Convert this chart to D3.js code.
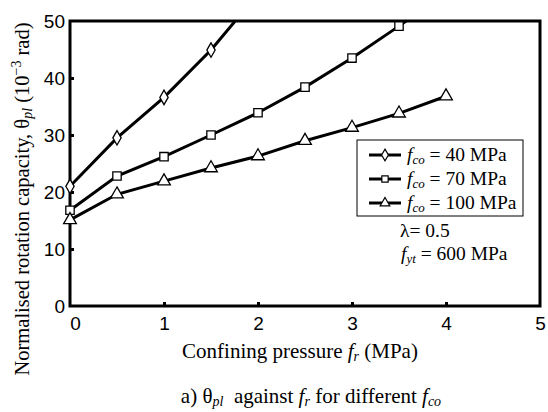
<!DOCTYPE html>
<html>
<head>
<meta charset="utf-8">
<script src="https://cdn.jsdelivr.net/npm/d3@7"></script>
<style>
  body { margin: 0; background: #fff; }
  svg text { fill: #000; }
</style>
</head>
<body>
<div class="chart"></div>
<script>
//data
const pressure = [0, 0.5, 1, 1.5, 2, 2.5, 3, 3.5, 4];
const theta40 = [21, 29.5, 36.6, 44.9, 54.8];
const theta70 = [16.8, 22.8, 26.2, 30, 33.9, 38.4, 43.5, 49.1, 55];
const theta100 = [15.1, 19.6, 21.9, 24.2, 26.3, 29, 31.3, 33.8, 36.8];
const seriesNames = ["40", "70", "100"];
const xTicks = [0, 1, 2, 3, 4, 5];
const yTicks = [0, 10, 20, 30, 40, 50];

const width = 548, height = 412;
const margin = {left: 70, right: 8, top: 21, bottom: 106};
const serif = "'Liberation Serif','Times New Roman',serif",
      sans = "'Liberation Sans',Arial,sans-serif";

const svg = d3.select(".chart").append("svg")
    .attr("width", width)
    .attr("height", height);

const x = d3.scaleLinear().domain([0, 5]).range([margin.left, width - margin.right]);
const y = d3.scaleLinear().domain([0, 50]).range([height - margin.bottom, margin.top]);

svg.append("clipPath").attr("id", "clip")
  .append("rect")
    .attr("x", x(0) - 10).attr("y", y(50))
    .attr("width", x(5) - x(0) + 10).attr("height", y(0) - y(50));

//axes, ticks pointing inward
const xAxis = d3.axisBottom(x).tickValues(xTicks).tickSize(-4).tickPadding(11).tickFormat(d3.format("d"));
const yAxis = d3.axisLeft(y).tickValues(yTicks).tickSize(-4).tickPadding(5).tickFormat(d3.format("d"));

const gx = svg.append("g").attr("transform", "translate(0," + y(0) + ")").call(xAxis);
const gy = svg.append("g").attr("transform", "translate(" + x(0) + ",0)").call(yAxis);
[gx, gy].forEach(g => {
  g.select(".domain").remove();
  g.selectAll(".tick line").attr("stroke", "#000").attr("stroke-width", 3);
  g.selectAll(".tick text").style("font-family", sans).style("font-size", "19px");
});
gx.selectAll(".tick").filter(d => d === 0 || d === 5).select("line").remove();
gx.selectAll(".tick").filter(d => d === 0).select("text").attr("dx", 5);
gy.selectAll(".tick").filter(d => d === 0 || d === 50).select("line").remove();

//frame
svg.append("rect")
    .attr("x", x(0)).attr("y", y(50))
    .attr("width", x(5) - x(0)).attr("height", y(0) - y(50))
    .attr("fill", "none").attr("stroke", "#000").attr("stroke-width", 3);

const line = d3.line().x(d => x(d[0])).y(d => y(d[1]));
const series = [theta40, theta70, theta100].map(v => v.map((t, i) => [pressure[i], t]));
const shapes = [d3.symbolDiamond, d3.symbolSquare, d3.symbolTriangle];
const sizes = [60, 70, 70];

const plot = svg.append("g").attr("clip-path", "url(#clip)");
series.forEach((s, k) => {
  plot.append("path")
      .datum(s)
      .attr("d", line)
      .attr("fill", "none")
      .attr("stroke", "#000")
      .attr("stroke-width", 3);
  plot.selectAll(".m" + k)
    .data(s.filter(d => d[1] <= 50))
    .enter().append("path")
      .attr("transform", d => "translate(" + x(d[0]) + "," + y(d[1]) + ")")
      .attr("d", d3.symbol().type(shapes[k]).size(sizes[k]))
      .attr("fill", "#fff")
      .attr("stroke", "#000")
      .attr("stroke-width", 1.3);
});

//legend
const legend = svg.append("g");
legend.append("rect")
    .attr("x", 357).attr("y", 140).attr("width", 166).attr("height", 76)
    .attr("fill", "#fff").attr("stroke", "#000").attr("stroke-width", 1);
seriesNames.forEach((name, k) => {
  const ly = 155 + k * 24;
  legend.append("line")
      .attr("x1", 369).attr("x2", 401).attr("y1", ly).attr("y2", ly)
      .attr("stroke", "#000").attr("stroke-width", 3);
  legend.append("path")
      .attr("transform", "translate(385," + ly + ")")
      .attr("d", d3.symbol().type(shapes[k]).size(40))
      .attr("fill", "#fff").attr("stroke", "#000").attr("stroke-width", 1.2);
  const t = legend.append("text")
      .attr("x", 407).attr("y", ly + 6)
      .style("font-family", serif).style("font-size", "19.5px");
  t.append("tspan").style("font-style", "italic").text("f");
  t.append("tspan").style("font-style", "italic").style("font-size", "13px").attr("dy", 3).text("co");
  t.append("tspan").attr("dy", -3).text(" = " + name + " MPa");
});

svg.append("text")
    .attr("x", 400).attr("y", 237)
    .style("font-family", serif).style("font-size", "19.5px")
    .text("λ= 0.5");
const fyt = svg.append("text")
    .attr("x", 401).attr("y", 260)
    .style("font-family", serif).style("font-size", "19.5px");
fyt.append("tspan").style("font-style", "italic").text("f");
fyt.append("tspan").style("font-style", "italic").style("font-size", "13px").attr("dy", 3).text("yt");
fyt.append("tspan").attr("dy", -3).text(" = 600 MPa");

//x label
const xl = svg.append("text")
    .attr("x", 300).attr("y", 358)
    .attr("text-anchor", "middle")
    .style("font-family", serif).style("font-size", "21px");
xl.append("tspan").text("Confining pressure ");
xl.append("tspan").style("font-style", "italic").text("f");
xl.append("tspan").style("font-style", "italic").style("font-size", "14px").attr("dy", 3).text("r");
xl.append("tspan").attr("dy", -3).text(" (MPa)");

//y label
const yl = svg.append("text")
    .attr("transform", "translate(29,199) rotate(-90)")
    .attr("text-anchor", "middle")
    .style("font-family", serif).style("font-size", "20.5px");
yl.append("tspan").text("Normalised rotation capacity, θ");
yl.append("tspan").style("font-style", "italic").style("font-size", "14px").attr("dy", 3).text("pl");
yl.append("tspan").attr("dy", -3).text(" (10");
yl.append("tspan").style("font-size", "14px").attr("dy", -8).text("−3");
yl.append("tspan").attr("dy", 8).text(" rad)");

//caption
const cap = svg.append("text")
    .attr("x", 311).attr("y", 403)
    .attr("text-anchor", "middle")
    .style("font-family", serif).style("font-size", "21px");
cap.append("tspan").text("a) θ");
cap.append("tspan").style("font-style", "italic").style("font-size", "14px").attr("dy", 3).text("pl");
cap.append("tspan").attr("dy", -3).text("\u00a0\u00a0against ");
cap.append("tspan").style("font-style", "italic").text("f");
cap.append("tspan").style("font-style", "italic").style("font-size", "14px").attr("dy", 3).text("r");
cap.append("tspan").attr("dy", -3).text(" for different ");
cap.append("tspan").style("font-style", "italic").text("f");
cap.append("tspan").style("font-style", "italic").style("font-size", "14px").attr("dy", 3).text("co");
</script>
</body>
</html>
